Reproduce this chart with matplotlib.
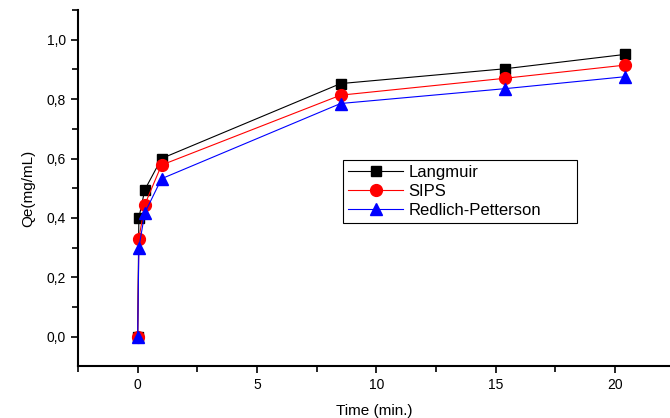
import matplotlib
matplotlib.use('Agg')
import matplotlib.pyplot as plt
from matplotlib.ticker import MultipleLocator, FuncFormatter

plt.rcParams['font.family'] = ['Liberation Sans', 'DejaVu Sans']

# time (min) and Qe (mg/mL)
time = [0, 0.05, 0.3, 1.0, 8.5, 15.4, 20.4]
langmuir = [0.0, 0.40, 0.495, 0.60, 0.852, 0.902, 0.95]
sips = [0.0, 0.33, 0.445, 0.578, 0.813, 0.87, 0.914]
redlich = [0.0, 0.30, 0.417, 0.532, 0.785, 0.835, 0.875]

fig = plt.figure(figsize=(6.7, 4.18), dpi=100)
ax = fig.add_axes([0.1164, 0.1244, 0.8836, 0.852])

ax.plot(time, langmuir, color='black', lw=0.8, marker='s', ms=7.5, label='Langmuir')
ax.plot(time, sips, color='red', lw=0.8, marker='o', ms=8.5, label='SIPS')
ax.plot(time, redlich, color='blue', lw=0.8, marker='^', ms=9, label='Redlich-Petterson')

ax.set_xlim(-2.5, 22.3)
ax.set_ylim(-0.098, 1.1)

ax.xaxis.set_major_locator(MultipleLocator(5))
ax.xaxis.set_minor_locator(MultipleLocator(2.5))
ax.yaxis.set_major_locator(MultipleLocator(0.2))
ax.yaxis.set_minor_locator(MultipleLocator(0.1))
ax.yaxis.set_major_formatter(FuncFormatter(lambda v, p: ('%.1f' % v).replace('.', ',')))

ax.tick_params(which='both', direction='out', width=1.2, labelsize=10, colors='black')
ax.tick_params(which='major', length=5)
ax.tick_params(which='minor', length=4)
for s in ['top', 'right']:
    ax.spines[s].set_visible(False)
for s in ['left', 'bottom']:
    ax.spines[s].set_linewidth(1.5)

ax.set_xlabel('Time (min.)', fontsize=11, labelpad=9)
ax.set_ylabel('Qe(mg/mL)', fontsize=11, labelpad=8)

leg = ax.legend(loc='upper left', bbox_to_anchor=(0.448, 0.405, 0.395, 0.174),
                mode='expand', fontsize=12,
                fancybox=False, framealpha=1, edgecolor='black',
                borderpad=0.3, labelspacing=0.25, handlelength=3.3,
                handletextpad=0.3, borderaxespad=0)
leg.get_frame().set_linewidth(0.8)

fig.savefig('out.png', dpi=100)
